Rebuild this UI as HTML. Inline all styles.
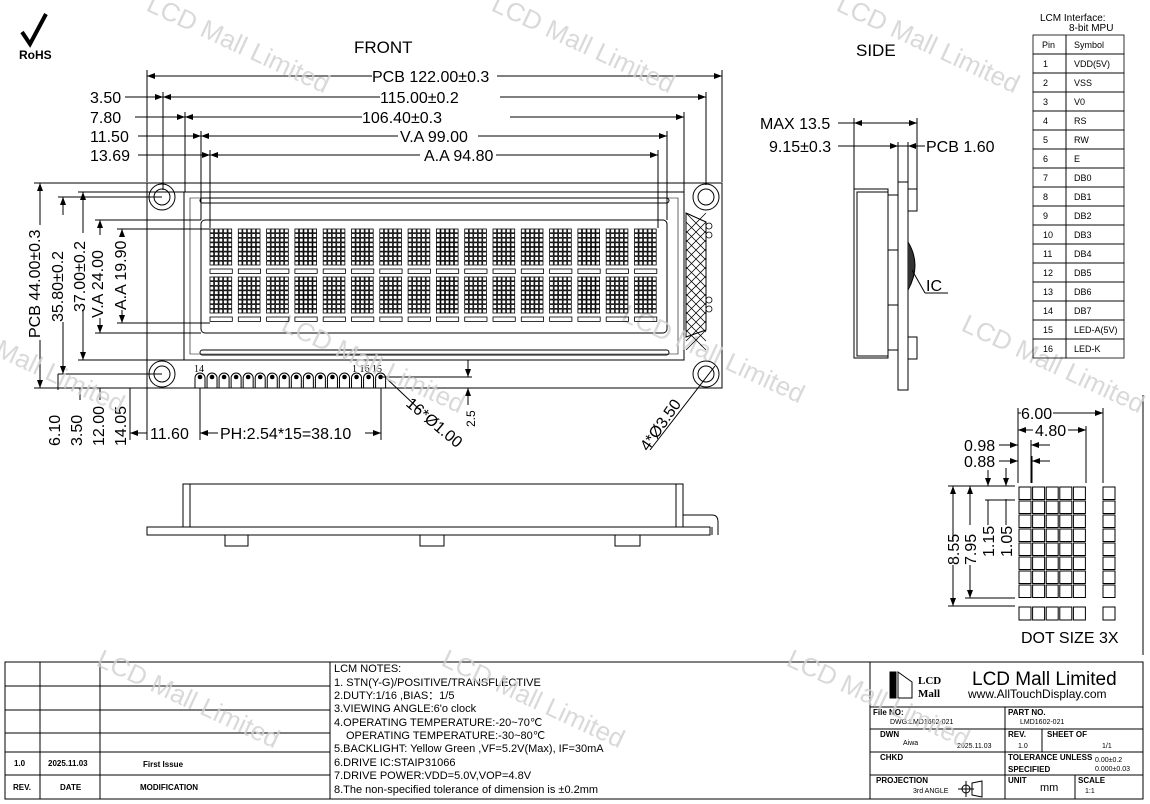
<!DOCTYPE html>
<html><head><meta charset="utf-8"><style>
body{margin:0;background:#fff}
svg{display:block;font-family:"Liberation Sans",sans-serif}
</style></head><body>
<svg id="s" width="1150" height="804" viewBox="0 0 1150 804" xmlns="http://www.w3.org/2000/svg">
<defs>
<marker id="a" markerWidth="8" markerHeight="6" refX="8" refY="3" orient="auto-start-reverse"><path d="M0,0 L8,3 L0,6 z" fill="#000"/></marker>
</defs>
<g stroke="#000" fill="none" stroke-width="1">
<path d="M22 32 L30 44 L46 14" stroke-width="4"/>
<rect x="147" y="183" width="575" height="205"/>
<path d="M184 192 H684 V360 H184 Z"/>
<path d="M190 198 H678 V354 H190 Z" stroke-width="0.6"/>
<rect x="200" y="198" width="469" height="5" rx="2.5"/>
<rect x="200" y="350" width="469" height="5" rx="2.5"/>
<rect x="201" y="220" width="466" height="113" rx="4"/>
<path d="M686 213 L706 222 V330 L686 337 Z" fill="#fff"/>
<line x1="147" y1="182" x2="147" y2="70"/><line x1="722" y1="182" x2="722" y2="70"/>
<line x1="147" y1="76" x2="372" y2="76" marker-start="url(#a)"/><line x1="497" y1="76" x2="722" y2="76" marker-end="url(#a)"/>
<line x1="163" y1="190" x2="163" y2="92"/><line x1="706" y1="185" x2="706" y2="92"/>
<line x1="125" y1="97" x2="163" y2="97" marker-end="url(#a)"/><line x1="163" y1="97" x2="380" y2="97" marker-start="url(#a)"/><line x1="500" y1="97" x2="706" y2="97" marker-end="url(#a)"/>
<line x1="185" y1="192" x2="185" y2="112"/><line x1="684" y1="192" x2="684" y2="112"/>
<line x1="135" y1="117" x2="185" y2="117" marker-end="url(#a)"/><line x1="185" y1="117" x2="362" y2="117" marker-start="url(#a)"/><line x1="510" y1="117" x2="684" y2="117" marker-end="url(#a)"/>
<line x1="201" y1="220" x2="201" y2="131"/><line x1="667" y1="220" x2="667" y2="131"/>
<line x1="138" y1="136" x2="201" y2="136" marker-end="url(#a)"/><line x1="201" y1="136" x2="398" y2="136" marker-start="url(#a)"/><line x1="478" y1="136" x2="667" y2="136" marker-end="url(#a)"/>
<line x1="210" y1="228" x2="210" y2="150"/><line x1="658" y1="228" x2="658" y2="150"/>
<line x1="138" y1="155" x2="210" y2="155" marker-end="url(#a)"/><line x1="210" y1="155" x2="420" y2="155" marker-start="url(#a)"/><line x1="496" y1="155" x2="658" y2="155" marker-end="url(#a)"/>
<line x1="34" y1="183" x2="147" y2="183"/><line x1="34" y1="388" x2="147" y2="388"/>
<line x1="40" y1="183" x2="40" y2="225" marker-start="url(#a)"/><line x1="40" y1="340" x2="40" y2="388" marker-end="url(#a)"/>
<line x1="58" y1="197" x2="162" y2="197"/><line x1="58" y1="374" x2="162" y2="374"/>
<line x1="63" y1="197" x2="63" y2="215" marker-start="url(#a)"/><line x1="63" y1="322" x2="63" y2="374" marker-end="url(#a)"/>
<line x1="78" y1="192" x2="184" y2="192"/><line x1="78" y1="360" x2="184" y2="360"/>
<line x1="83" y1="192" x2="83" y2="233" marker-start="url(#a)"/><line x1="83" y1="310" x2="83" y2="360" marker-end="url(#a)"/>
<line x1="95" y1="220" x2="201" y2="220"/><line x1="95" y1="333" x2="201" y2="333"/>
<line x1="100" y1="220" x2="100" y2="235" marker-start="url(#a)"/><line x1="100" y1="318" x2="100" y2="333" marker-end="url(#a)"/>
<line x1="117" y1="229" x2="210" y2="229"/><line x1="117" y1="323" x2="210" y2="323"/>
<line x1="122" y1="229" x2="122" y2="237" marker-start="url(#a)"/><line x1="122" y1="310" x2="122" y2="323" marker-end="url(#a)"/>
<line x1="58" y1="374" x2="58" y2="390"/><line x1="80" y1="388" x2="80" y2="400"/>
<line x1="100" y1="388" x2="100" y2="400"/><line x1="130" y1="388" x2="130" y2="440"/>
<line x1="147" y1="388" x2="147" y2="440"/><line x1="200" y1="388" x2="200" y2="440"/><line x1="381" y1="388" x2="381" y2="440"/>
<line x1="130" y1="433" x2="147" y2="433" marker-start="url(#a)"/>
<line x1="200" y1="433" x2="218" y2="433" marker-start="url(#a)"/><line x1="365" y1="433" x2="381" y2="433" marker-end="url(#a)"/>
<line x1="383" y1="377" x2="472" y2="377"/><line x1="383" y1="388" x2="472" y2="388"/>
<line x1="468" y1="360" x2="468" y2="377" marker-end="url(#a)"/><line x1="468" y1="405" x2="468" y2="388" marker-end="url(#a)"/>
<line x1="385" y1="377" x2="420" y2="410"/>
<line x1="715" y1="366" x2="650" y2="450"/>
<rect x="183" y="484" width="500" height="43"/>
<line x1="190" y1="484" x2="190" y2="527"/><line x1="676" y1="484" x2="676" y2="527"/>
<rect x="147" y="527" width="563" height="8"/>
<path d="M683 515 H712 Q718 515 718 522 V535 M712 527 V535"/>
<rect x="225" y="535" width="23" height="11"/><rect x="420" y="535" width="24" height="11"/><rect x="615" y="535" width="25" height="11"/>
<rect x="854" y="189" width="34" height="169"/>
<path d="M888 192 H857 V356 H888"/>
<rect x="888" y="195" width="10" height="55"/><rect x="888" y="305" width="10" height="45"/>
<rect x="898" y="182" width="10" height="208"/>
<rect x="908" y="189" width="9" height="22"/><rect x="908" y="337" width="9" height="22"/>
<path d="M908 242 Q922 265 908 290" fill="#333"/>
<line x1="912" y1="270" x2="925" y2="293"/><line x1="925" y1="293" x2="948" y2="293"/>
<line x1="854" y1="189" x2="854" y2="118"/><line x1="917" y1="189" x2="917" y2="118"/>
<line x1="838" y1="123" x2="917" y2="123"/>
<line x1="854" y1="123" x2="870" y2="123" marker-start="url(#a)"/><line x1="900" y1="123" x2="917" y2="123" marker-end="url(#a)"/>
<line x1="898" y1="182" x2="898" y2="142"/><line x1="908" y1="182" x2="908" y2="142"/>
<line x1="838" y1="146" x2="924" y2="146"/>
<line x1="870" y1="146" x2="898" y2="146" marker-end="url(#a)"/><line x1="925" y1="146" x2="908" y2="146" marker-end="url(#a)"/>
<line x1="1018" y1="408" x2="1018" y2="483"/><line x1="1103" y1="408" x2="1103" y2="483"/><line x1="1086" y1="426" x2="1086" y2="483"/>
<line x1="1031" y1="440" x2="1031" y2="483"/><line x1="1032" y1="456" x2="1032" y2="483"/>
<line x1="1018" y1="413" x2="1021" y2="413"/><line x1="1053" y1="413" x2="1103" y2="413" marker-end="url(#a)"/>
<line x1="1018" y1="430" x2="1033" y2="430" marker-start="url(#a)"/><line x1="1068" y1="430" x2="1086" y2="430" marker-end="url(#a)"/>
<line x1="999" y1="445" x2="1018" y2="445" marker-end="url(#a)"/><line x1="1050" y1="445" x2="1031" y2="445" marker-end="url(#a)"/>
<line x1="999" y1="461" x2="1018" y2="461" marker-end="url(#a)"/><line x1="1050" y1="461" x2="1032" y2="461" marker-end="url(#a)"/>
<line x1="948" y1="486" x2="1015" y2="486"/><line x1="948" y1="606" x2="1015" y2="606"/><line x1="965" y1="598" x2="1015" y2="598"/>
<line x1="985" y1="500" x2="1015" y2="500"/>
<line x1="953" y1="486" x2="953" y2="540" marker-start="url(#a)"/><line x1="953" y1="565" x2="953" y2="606" marker-end="url(#a)"/>
<line x1="970" y1="486" x2="970" y2="525" marker-start="url(#a)"/><line x1="970" y1="565" x2="970" y2="598" marker-end="url(#a)"/>
<line x1="988" y1="470" x2="988" y2="486" marker-end="url(#a)"/><line x1="988" y1="500" x2="988" y2="525"/>
<line x1="1006" y1="468" x2="1006" y2="486" marker-end="url(#a)"/><line x1="1006" y1="499" x2="1006" y2="525"/>
<line x1="1143" y1="395" x2="1143" y2="655"/>
<rect x="5" y="662" width="1138" height="137"/>
<line x1="40" y1="662" x2="40" y2="799"/><line x1="100" y1="662" x2="100" y2="799"/><line x1="330" y1="662" x2="330" y2="799"/><line x1="870" y1="662" x2="870" y2="799"/>
<line x1="5" y1="686" x2="330" y2="686"/><line x1="5" y1="710" x2="330" y2="710"/><line x1="5" y1="733" x2="330" y2="733"/><line x1="5" y1="752" x2="330" y2="752"/><line x1="5" y1="775" x2="330" y2="775"/>
<line x1="870" y1="707" x2="1143" y2="707"/><line x1="870" y1="729" x2="1143" y2="729"/><line x1="870" y1="752" x2="1143" y2="752"/><line x1="870" y1="775" x2="1143" y2="775"/>
<line x1="1005" y1="707" x2="1005" y2="799"/><line x1="1042" y1="729" x2="1042" y2="752"/><line x1="1075" y1="775" x2="1075" y2="799"/>
<rect x="890" y="672" width="6" height="26" fill="#000"/><path d="M898 672 L912 682 V698 H898 Z"/>
<circle cx="966" cy="789" r="4"/><path d="M958 789 H974 M966 781 V797 M972 783 L982 781 V797 L972 795 Z"/>
</g>
<g font-size="17" fill="#000">
<text x="354" y="53">FRONT</text><text x="856" y="56">SIDE</text>
<text x="372" y="82" font-size="16">PCB 122.00±0.3</text>
<text x="90" y="103" font-size="16">3.50</text><text x="380" y="103" font-size="16">115.00±0.2</text>
<text x="90" y="123" font-size="16">7.80</text><text x="362" y="123" font-size="16">106.40±0.3</text>
<text x="90" y="142" font-size="16">11.50</text><text x="400" y="142" font-size="16">V.A 99.00</text>
<text x="90" y="161" font-size="16">13.69</text><text x="424" y="161" font-size="16">A.A 94.80</text>
<g font-size="16">
<text transform="translate(40,338) rotate(-90)">PCB 44.00±0.3</text>
<text transform="translate(63,322) rotate(-90)">35.80±0.2</text>
<text transform="translate(85,312) rotate(-90)">37.00±0.2</text>
<text transform="translate(103,318) rotate(-90)">V.A 24.00</text>
<text transform="translate(126,310) rotate(-90)">A.A 19.90</text>
<text transform="translate(60,446) rotate(-90)">6.10</text>
<text transform="translate(82,446) rotate(-90)">3.50</text>
<text transform="translate(104,446) rotate(-90)">12.00</text>
<text transform="translate(126,446) rotate(-90)">14.05</text>
<text x="150" y="439">11.60</text><text x="220" y="439">PH:2.54*15=38.10</text>
<text transform="translate(405,405) rotate(40)">16*Ø1.00</text>
<text transform="translate(648,452) rotate(-55)">4*Ø3.50</text>
<text x="760" y="129">MAX 13.5</text><text x="769" y="152">9.15±0.3</text><text x="926" y="152">PCB 1.60</text>
<text x="926" y="291">IC</text>
<text x="1021" y="419">6.00</text><text x="1035" y="436">4.80</text>
<text x="964" y="451">0.98</text><text x="964" y="467">0.88</text>
<text transform="translate(959,565) rotate(-90)">8.55</text>
<text transform="translate(976,565) rotate(-90)">7.95</text>
<text transform="translate(994,557) rotate(-90)">1.15</text>
<text transform="translate(1012,557) rotate(-90)">1.05</text>
<text x="1021" y="643">DOT SIZE 3X</text>
</g>
<text transform="translate(475,427) rotate(-90)" font-size="12">2.5</text>
<text x="194" y="372" font-size="10" font-family="Liberation Serif">14</text>
<text x="352" y="372" font-size="10" font-family="Liberation Serif">1 16 15</text>
<text x="1040" y="21" font-size="10">LCM Interface:</text><text x="1069" y="31" font-size="10">8-bit MPU</text>
<text x="19" y="59" font-size="12" font-weight="bold">RoHS</text>
<g font-size="11">
<text x="334" y="672">LCM NOTES:</text>
<text x="334" y="686">1. STN(Y-G)/POSITIVE/TRANSFLECTIVE</text>
<text x="334" y="699">2.DUTY:1/16 ,BIAS：1/5</text>
<text x="334" y="712">3.VIEWING ANGLE:6'o clock</text>
<text x="334" y="726">4.OPERATING TEMPERATURE:-20~70℃</text>
<text x="346" y="739">OPERATING TEMPERATURE:-30~80℃</text>
<text x="334" y="752">5.BACKLIGHT: Yellow Green ,VF=5.2V(Max), IF=30mA</text>
<text x="334" y="766">6.DRIVE IC:STAIP31066</text>
<text x="334" y="779">7.DRIVE POWER:VDD=5.0V,VOP=4.8V</text>
<text x="334" y="793">8.The non-specified tolerance of dimension is ±0.2mm</text>
</g>
<g font-size="8" font-weight="bold">
<text x="14" y="766">1.0</text><text x="48" y="766">2025.11.03</text><text x="143" y="767">First Issue</text>
<text x="13" y="790">REV.</text><text x="60" y="790">DATE</text><text x="140" y="790">MODIFICATION</text>
<text x="873" y="715">File NO:</text><text x="1008" y="715">PART NO.</text>
<text x="880" y="737">DWN</text><text x="1008" y="737">REV.</text><text x="1047" y="737">SHEET OF</text>
<text x="880" y="760">CHKD</text><text x="1008" y="760">TOLERANCE UNLESS</text><text x="1008" y="772">SPECIFIED</text>
<text x="876" y="783">PROJECTION</text><text x="1008" y="783">UNIT</text><text x="1078" y="783">SCALE</text>
</g>
<g font-size="7">
<text x="890" y="724">DWG:LMD1602-021</text><text x="1020" y="724">LMD1602-021</text>
<text x="903" y="745">Aiwa</text><text x="957" y="748">2025.11.03</text><text x="1018" y="748">1.0</text><text x="1102" y="748">1/1</text>
<text x="1095" y="762">0.00±0.2</text><text x="1095" y="771">0.000±0.03</text>
<text x="913" y="793">3rd ANGLE</text><text x="1085" y="793">1:1</text>
</g>
<text x="1040" y="791" font-size="11">mm</text>
<text x="918" y="684" font-size="11" font-weight="bold" font-family="Liberation Serif">LCD</text>
<text x="918" y="697" font-size="11" font-weight="bold" font-family="Liberation Serif">Mall</text>
<text x="972" y="685" font-size="19">LCD Mall Limited</text>
<text x="968" y="698" font-size="12">www.AllTouchDisplay.com</text>
</g>
<g font-size="26" fill="#d0d0d0" opacity="0.8">
<text transform="translate(145,10) rotate(25)">LCD Mall Limited</text>
<text transform="translate(490,10) rotate(25)">LCD Mall Limited</text>
<text transform="translate(835,10) rotate(25)">LCD Mall Limited</text>
<text transform="translate(280,330) rotate(25)">LCD Mall Limited</text>
<text transform="translate(620,320) rotate(25)">LCD Mall Limited</text>
<text transform="translate(960,330) rotate(25)">LCD Mall Limited</text>
<text transform="translate(-60,330) rotate(25)">LCD Mall Limited</text>
<text transform="translate(95,665) rotate(25)">LCD Mall Limited</text>
<text transform="translate(440,665) rotate(25)">LCD Mall Limited</text>
<text transform="translate(785,665) rotate(25)">LCD Mall Limited</text>
</g>
</svg>
<script>
var NS="http://www.w3.org/2000/svg";
function el(p,t,a){var e=document.createElementNS(NS,t);for(var k in a)e.setAttribute(k,a[k]);p.appendChild(e);return e;}
var s=document.getElementById('s');
var g=el(s,'g',{stroke:'#000',fill:'none','stroke-width':'0.8'});
for(var c=0;c<16;c++){var x0=210+c*28.3;
 [229,277].forEach(function(y0){
  for(var i=0;i<5;i++)for(var j=0;j<8;j++)el(g,'rect',{x:x0+i*4.5,y:y0+j*4.6,width:3.7,height:3.8});
  el(g,'rect',{x:x0,y:y0+40,width:22.3,height:4.4});
 });}
[[162,197],[706,197],[162,374],[706,374]].forEach(function(h){el(g,'circle',{cx:h[0],cy:h[1],r:13,'stroke-width':1});el(g,'circle',{cx:h[0],cy:h[1],r:8,'stroke-width':1});});
for(var k=0;k<14;k++){el(g,'line',{x1:686,y1:213+k*9,x2:706,y2:222+k*9+11});el(g,'line',{x1:706,y1:213+k*9,x2:686,y2:222+k*9+11});}
[226,235,300,309].forEach(function(y){el(g,'circle',{cx:709,cy:y,r:3});});
for(var p=0;p<16;p++){var x=200+p*12.04;el(g,'path',{d:'M'+(x-5)+' 388 V378 A5 5 0 0 1 '+(x+5)+' 378 V388','stroke-width':1});el(s,'circle',{cx:x,cy:377,r:2.3,fill:'#000'});}
for(var i=0;i<5;i++){for(var j=0;j<8;j++)el(g,'rect',{x:1019+i*13.6,y:487+j*14,width:12,height:12.5,'stroke-width':1});el(g,'rect',{x:1019+i*13.6,y:607,width:12,height:13,'stroke-width':1});}
for(var j=0;j<8;j++)el(g,'rect',{x:1103,y:487+j*14,width:12,height:12.5,'stroke-width':1});
el(g,'rect',{x:1103,y:607,width:12,height:13,'stroke-width':1});
var names=['VDD(5V)','VSS','V0','RS','RW','E','DB0','DB1','DB2','DB3','DB4','DB5','DB6','DB7','LED-A(5V)','LED-K'];
var T=el(s,'g',{'font-size':'9',fill:'#000'});
for(var r=0;r<17;r++){var y=35+r*19;el(g,'rect',{x:1033,y:y,width:33,height:19,'stroke-width':0.8});el(g,'rect',{x:1066,y:y,width:58,height:19,'stroke-width':0.8});
 var t1=el(T,'text',{x:r?1043:1042,y:y+13});t1.textContent=r?r:'Pin';
 var t2=el(T,'text',{x:1074,y:y+13});t2.textContent=r?names[r-1]:'Symbol';}
</script>
</body></html>
